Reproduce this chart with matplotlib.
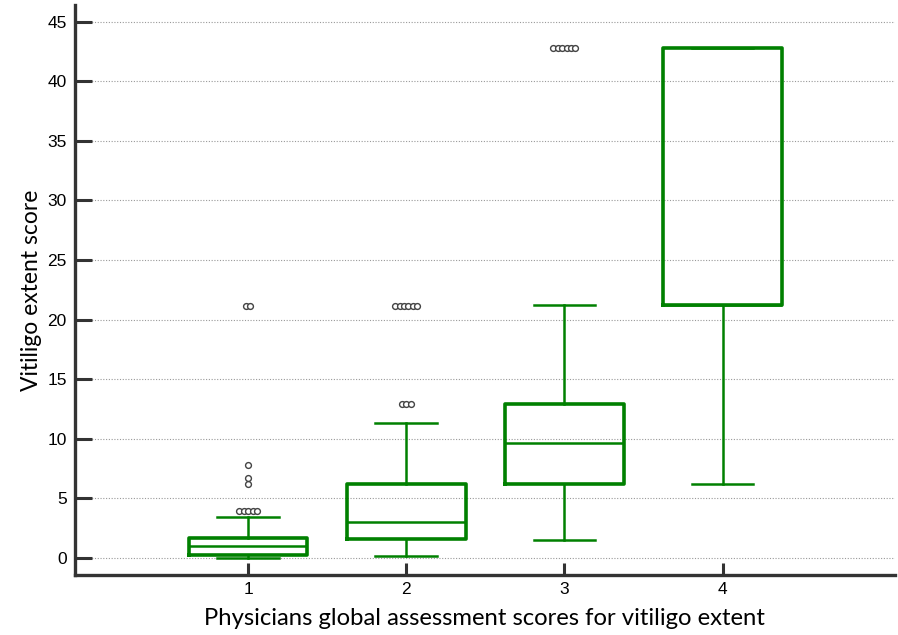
import matplotlib
matplotlib.use("Agg")
import matplotlib.pyplot as plt
import numpy as np

# PGA score groups and box statistics
groups = [1, 2, 3, 4]
q1 = [0.23, 1.6, 6.2, 21.2]
med = [1.0, 3.02, 9.65, 21.2]
q3 = [1.65, 6.19, 12.96, 42.76]
whislo = [0.03, 0.2, 1.54, 6.2]
whishi = [3.42, 11.33, 21.2, 42.76]

# outliers (repeated values are drawn side by side)
fliers = [
    [3.9, 3.9, 3.9, 3.9, 3.9, 6.2, 6.7, 7.8, 21.16, 21.16],
    [12.96, 12.96, 12.96, 21.16, 21.16, 21.16, 21.16, 21.16, 21.16],
    [42.76, 42.76, 42.76, 42.76, 42.76, 42.76],
    [],
]

green = "#008000"
dark = "#333333"

fig = plt.figure(figsize=(8.98, 6.35), dpi=100)
ax = fig.add_axes([0.0835, 0.0945, 0.913, 0.8975])

stats = []
for i in range(len(groups)):
    stats.append(dict(q1=q1[i], med=med[i], q3=q3[i], whislo=whislo[i], whishi=whishi[i], fliers=[]))

ax.bxp(stats, positions=groups, widths=0.75, showfliers=False,
       boxprops=dict(color=green, linewidth=2.6),
       medianprops=dict(color=green, linewidth=1.8),
       whiskerprops=dict(color=green, linewidth=1.8),
       capprops=dict(color=green, linewidth=1.8),
       capwidths=0.39, zorder=3)

for g, vals in zip(groups, fliers):
    uniq = sorted(set(vals))
    for v in uniq:
        n = vals.count(v)
        xs = g + (np.arange(n) - (n - 1) / 2) * 0.028
        ax.plot(xs, [v] * n, "o", ms=4.2, mfc="white", mec="#444444", mew=1.0, zorder=4)

ax.set_xlim(-0.095, 5.09)
ax.set_ylim(-1.43, 46.4)
ax.set_xticks(groups)
ax.set_xticklabels([str(g) for g in groups])
ax.set_yticks(np.arange(0, 50, 5))

ax.yaxis.grid(True, linestyle=(0, (1, 1.5)), color="#999999", linewidth=0.8)
ax.set_axisbelow(True)

for s in ["top", "right"]:
    ax.spines[s].set_visible(False)
for s in ["left", "bottom"]:
    ax.spines[s].set_color(dark)
    ax.spines[s].set_linewidth(2.4)

ax.tick_params(axis="both", direction="in", length=12, width=2.2, color=dark,
               labelsize=12.5, labelcolor="black")
ax.tick_params(axis="y", pad=6)
ax.tick_params(axis="x", length=9, pad=5)
for lab in ax.get_xticklabels() + ax.get_yticklabels():
    lab.set_fontfamily("Liberation Sans")

ax.set_xlabel("Physicians global assessment scores for vitiligo extent",
              fontsize=17.2, family="Lato", labelpad=8)
ax.set_ylabel("Vitiligo extent score", fontsize=16.5, family="Lato", labelpad=4)

fig.savefig("out.png", dpi=100)
